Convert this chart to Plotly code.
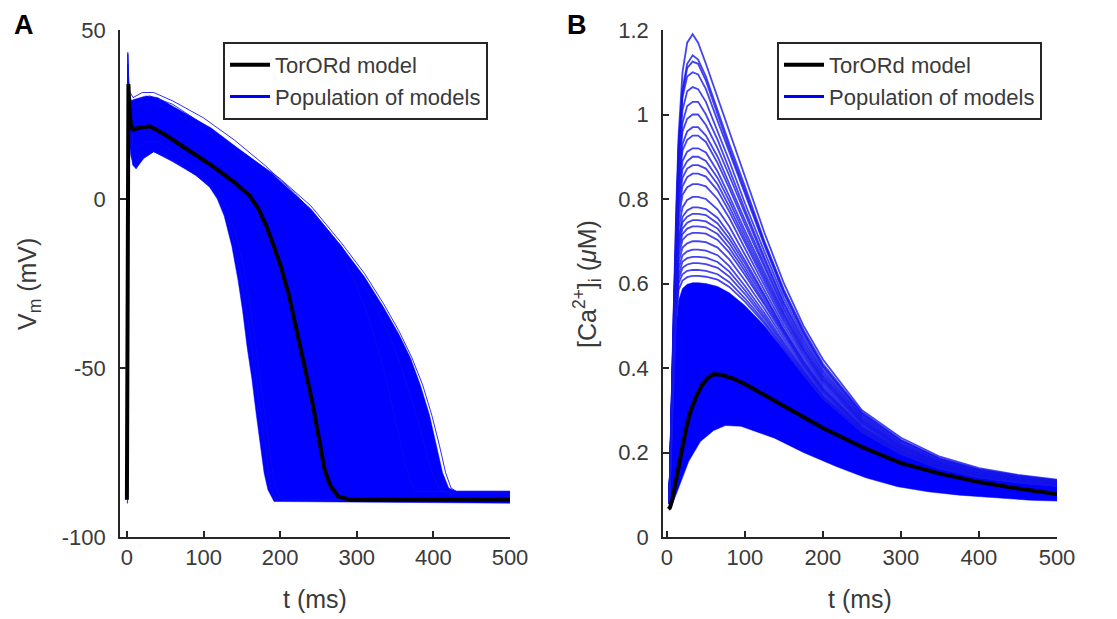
import plotly.graph_objects as go

# ---------------- Panel A: membrane potential ----------------
# TorORd baseline action potential (t in ms, V in mV)
tor_ap_t = [0, 0.7, 1.4, 2, 3, 5, 8, 15, 30, 50, 80, 110, 140, 160, 172, 182, 192, 201,
            211, 222, 233, 242, 250, 258, 266, 276, 292, 400, 500]
tor_ap_v = [-89, -40, 20, 34, 28, 22, 20.5, 21, 21.5, 19, 14.5, 10, 5, 1, -3, -8, -14, -20,
            -28, -39, -50, -60, -70, -80, -85, -88, -89, -89, -89]

# population envelope (upper / right edge)
pop_ap_up_t = [0, 0.6, 1.2, 2.5, 4, 10, 25, 40, 80, 110, 145, 190, 240, 280, 310, 335, 355,
               370, 383, 395, 404, 412, 420, 430, 500]
pop_ap_up_v = [-86.5, 20, 43.5, 33, 29, 29.5, 30.5, 30, 25, 21, 15, 7.5, -3, -14, -23, -32, -40,
               -47, -55, -64, -73, -81, -85.5, -86.5, -86.5]
# population envelope (lower / left edge)
pop_ap_lo_t = [0, 0.8, 1.6, 3, 5, 8, 12, 22, 35, 60, 90, 108, 118, 127, 137, 145, 151, 157,
               163, 169, 174, 179, 184, 192, 500]
pop_ap_lo_v = [-90, -90, 20, 18, 13, 10, 9, 12, 14, 11, 7, 3.5, 0, -5, -14, -24, -33, -44,
               -53, -64, -73, -81, -86, -89.5, -90]

# a few individual population traces visible at the edges
ap_traces = [
    ([0, 1.2, 3, 6, 15, 30, 60, 100, 150, 200, 240, 280, 310, 335, 355, 372, 386, 398, 408, 416, 423, 430, 500],
     [-86.5, 43, 31, 29, 29.5, 30.5, 28, 22, 14, 6, -2, -13, -22, -31, -39, -47, -55, -64, -73, -81, -85.5, -86.5, -86.5]),
    ([0, 1, 3, 6, 15, 30, 60, 100, 150, 200, 240, 280, 305, 325, 342, 357, 370, 382, 392, 400, 408, 418, 500],
     [-87, 38, 30, 27, 28, 29, 26, 20.5, 13, 5, -3, -14, -23, -32, -40, -49, -58, -67, -76, -82, -86, -87, -87]),
    ([0, 1, 3, 8, 20, 35, 60, 100, 140, 180, 220, 250, 275, 295, 312, 326, 338, 348, 357, 365, 375, 500],
     [-87, 40, 32, 30, 31.5, 31.5, 29, 24, 17.5, 10, 1.5, -6, -14, -23, -33, -43, -53, -63, -72, -80, -86.5, -86.5]),
    ([0, 1, 3, 8, 12, 20, 35, 60, 90, 110, 122, 134, 144, 152, 159, 166, 172, 178, 183, 188, 194, 500],
     [-88, 35, 22, 10, 9, 12, 14, 11.5, 7, 3.5, -1, -8, -17, -27, -37, -48, -59, -69, -78, -85, -89, -89]),
    ([0, 1, 3, 8, 15, 25, 40, 65, 95, 118, 131, 143, 153, 161, 168, 175, 181, 187, 192, 197, 204, 500],
     [-88, 36, 24, 16, 15, 17, 17, 13.5, 8, 3, -3, -11, -21, -32, -43, -55, -66, -76, -83, -87, -89, -89]),
]

# ---------------- Panel B: intracellular calcium ----------------
tor_ca_t = [2, 4, 7, 10, 15, 20, 25, 30, 37, 45, 52, 59, 70, 85, 100, 125, 150, 175, 200,
            250, 300, 350, 400, 450, 500]
tor_ca_v = [0.066, 0.07, 0.09, 0.12, 0.17, 0.215, 0.26, 0.296, 0.33, 0.36, 0.376, 0.385, 0.384,
            0.375, 0.362, 0.336, 0.31, 0.283, 0.258, 0.213, 0.175, 0.15, 0.13, 0.115, 0.102]

ca_grid_t = [3, 5, 7, 9, 12, 15, 20, 26, 33, 40, 50, 65, 80, 100, 125, 150, 175, 200, 250, 300,
             350, 400, 450, 500]
# dense part of the population (upper edge on ca_grid_t)
pop_ca_dense_up = [0.08, 0.17, 0.29, 0.40, 0.50, 0.56, 0.588, 0.598, 0.602, 0.602, 0.60, 0.593,
                   0.578, 0.548, 0.5, 0.442, 0.383, 0.327, 0.248, 0.196, 0.162, 0.141, 0.129, 0.121]
pop_ca_lo_t = [3, 6, 10, 20, 28, 43, 60, 75, 95, 138, 175, 217, 255, 296, 335, 375, 420, 466, 500]
pop_ca_lo_v = [0.063, 0.072, 0.09, 0.14, 0.179, 0.226, 0.252, 0.264, 0.262, 0.234, 0.2, 0.167,
               0.14, 0.119, 0.107, 0.099, 0.093, 0.087, 0.085]

# individual high-amplitude transients (values on ca_grid_t)
ca_traces = [
    [0.08, 0.22, 0.40, 0.56, 0.78, 0.95, 1.10, 1.17, 1.19, 1.17, 1.12, 1.04, 0.96, 0.85, 0.72, 0.60, 0.50, 0.42, 0.30, 0.235, 0.19, 0.163, 0.147, 0.136],
    [0.08, 0.22, 0.40, 0.56, 0.77, 0.93, 1.06, 1.12, 1.14, 1.13, 1.09, 1.01, 0.93, 0.83, 0.70, 0.585, 0.49, 0.41, 0.295, 0.23, 0.186, 0.16, 0.145, 0.134],
    [0.08, 0.22, 0.40, 0.56, 0.77, 0.92, 1.05, 1.11, 1.125, 1.12, 1.08, 1.00, 0.92, 0.82, 0.695, 0.58, 0.485, 0.405, 0.293, 0.228, 0.185, 0.159, 0.144, 0.133],
    [0.08, 0.22, 0.40, 0.56, 0.76, 0.91, 1.04, 1.09, 1.10, 1.095, 1.06, 0.985, 0.91, 0.81, 0.69, 0.575, 0.482, 0.403, 0.291, 0.227, 0.184, 0.158, 0.143, 0.133],
    [0.08, 0.21, 0.39, 0.55, 0.75, 0.89, 1.01, 1.055, 1.065, 1.06, 1.03, 0.96, 0.89, 0.79, 0.675, 0.565, 0.475, 0.397, 0.288, 0.224, 0.182, 0.157, 0.142, 0.132],
    [0.08, 0.21, 0.38, 0.54, 0.73, 0.87, 0.98, 1.02, 1.03, 1.03, 1.0, 0.94, 0.87, 0.775, 0.662, 0.555, 0.468, 0.392, 0.285, 0.222, 0.18, 0.156, 0.141, 0.131],
    [0.08, 0.21, 0.38, 0.53, 0.72, 0.86, 0.96, 0.99, 1.0, 1.0, 0.975, 0.92, 0.855, 0.765, 0.655, 0.55, 0.463, 0.388, 0.283, 0.22, 0.179, 0.155, 0.14, 0.13],
    [0.08, 0.21, 0.38, 0.53, 0.71, 0.84, 0.93, 0.96, 0.97, 0.97, 0.95, 0.90, 0.835, 0.75, 0.645, 0.543, 0.457, 0.383, 0.28, 0.218, 0.177, 0.153, 0.139, 0.129],
    [0.08, 0.21, 0.37, 0.52, 0.70, 0.83, 0.915, 0.94, 0.95, 0.95, 0.935, 0.885, 0.825, 0.74, 0.637, 0.537, 0.452, 0.38, 0.278, 0.216, 0.176, 0.152, 0.138, 0.128],
    [0.08, 0.20, 0.37, 0.51, 0.69, 0.81, 0.89, 0.912, 0.92, 0.92, 0.91, 0.865, 0.807, 0.725, 0.627, 0.53, 0.447, 0.376, 0.276, 0.215, 0.175, 0.151, 0.137, 0.128],
    [0.08, 0.20, 0.36, 0.51, 0.68, 0.80, 0.87, 0.89, 0.90, 0.90, 0.89, 0.85, 0.795, 0.715, 0.62, 0.525, 0.443, 0.373, 0.274, 0.213, 0.174, 0.15, 0.137, 0.127],
    [0.08, 0.20, 0.36, 0.50, 0.67, 0.785, 0.85, 0.872, 0.88, 0.88, 0.872, 0.835, 0.782, 0.705, 0.613, 0.52, 0.44, 0.37, 0.272, 0.212, 0.173, 0.15, 0.136, 0.127],
    [0.08, 0.20, 0.35, 0.50, 0.66, 0.77, 0.83, 0.852, 0.86, 0.86, 0.853, 0.82, 0.77, 0.695, 0.605, 0.514, 0.435, 0.366, 0.27, 0.21, 0.172, 0.149, 0.136, 0.126],
    [0.08, 0.20, 0.35, 0.49, 0.65, 0.75, 0.81, 0.828, 0.835, 0.835, 0.83, 0.80, 0.755, 0.683, 0.596, 0.508, 0.43, 0.362, 0.268, 0.209, 0.171, 0.148, 0.135, 0.126],
    [0.08, 0.19, 0.34, 0.48, 0.63, 0.73, 0.78, 0.798, 0.805, 0.805, 0.80, 0.775, 0.735, 0.668, 0.585, 0.5, 0.424, 0.357, 0.265, 0.207, 0.17, 0.147, 0.134, 0.125],
    [0.08, 0.19, 0.34, 0.47, 0.62, 0.71, 0.758, 0.773, 0.78, 0.78, 0.776, 0.755, 0.717, 0.655, 0.575, 0.492, 0.418, 0.353, 0.262, 0.205, 0.168, 0.146, 0.133, 0.124],
    [0.08, 0.19, 0.34, 0.47, 0.61, 0.70, 0.745, 0.758, 0.765, 0.765, 0.762, 0.742, 0.706, 0.647, 0.57, 0.488, 0.415, 0.35, 0.26, 0.204, 0.168, 0.146, 0.133, 0.124],
    [0.08, 0.19, 0.33, 0.46, 0.60, 0.69, 0.73, 0.744, 0.75, 0.75, 0.747, 0.73, 0.695, 0.638, 0.563, 0.484, 0.412, 0.348, 0.259, 0.203, 0.167, 0.145, 0.132, 0.123],
    [0.08, 0.19, 0.33, 0.46, 0.59, 0.68, 0.717, 0.73, 0.735, 0.735, 0.733, 0.717, 0.684, 0.629, 0.556, 0.48, 0.408, 0.345, 0.257, 0.202, 0.166, 0.145, 0.132, 0.123],
    [0.08, 0.18, 0.32, 0.45, 0.58, 0.665, 0.703, 0.715, 0.72, 0.72, 0.718, 0.703, 0.673, 0.62, 0.55, 0.475, 0.405, 0.343, 0.256, 0.201, 0.165, 0.144, 0.131, 0.122],
    [0.08, 0.18, 0.32, 0.44, 0.57, 0.65, 0.685, 0.695, 0.70, 0.70, 0.698, 0.685, 0.657, 0.607, 0.54, 0.468, 0.4, 0.339, 0.254, 0.2, 0.164, 0.143, 0.13, 0.122],
    [0.08, 0.18, 0.31, 0.43, 0.56, 0.635, 0.667, 0.676, 0.68, 0.68, 0.678, 0.667, 0.641, 0.594, 0.53, 0.461, 0.395, 0.335, 0.252, 0.198, 0.163, 0.142, 0.13, 0.121],
    [0.08, 0.18, 0.31, 0.43, 0.55, 0.62, 0.652, 0.66, 0.663, 0.663, 0.661, 0.651, 0.628, 0.584, 0.523, 0.456, 0.392, 0.333, 0.251, 0.198, 0.163, 0.142, 0.13, 0.121],
    [0.08, 0.18, 0.30, 0.42, 0.54, 0.61, 0.637, 0.645, 0.648, 0.648, 0.646, 0.637, 0.616, 0.575, 0.517, 0.452, 0.389, 0.331, 0.25, 0.197, 0.162, 0.142, 0.13, 0.121],
    [0.08, 0.18, 0.30, 0.41, 0.53, 0.60, 0.622, 0.63, 0.632, 0.632, 0.63, 0.622, 0.603, 0.565, 0.51, 0.447, 0.386, 0.329, 0.249, 0.197, 0.162, 0.141, 0.129, 0.121],
    [0.08, 0.17, 0.29, 0.41, 0.52, 0.585, 0.607, 0.615, 0.618, 0.618, 0.616, 0.609, 0.592, 0.557, 0.505, 0.444, 0.384, 0.328, 0.248, 0.196, 0.162, 0.141, 0.129, 0.121],
]

legend_labels = ["TorORd model", "Population of models"]
x_ticks = [0, 100, 200, 300, 400, 500]
ap_y_ticks = [-100, -50, 0, 50]
ap_y_ticktext = ["-100", "-50", "0", "50"]
ca_y_ticks = [0, 0.2, 0.4, 0.6, 0.8, 1.0, 1.2]

# ---------------- styling / layout helpers ----------------
W, H = 1117, 619
OFF = 8  # default page body margin of the html page
BLUE = "rgb(0,0,255)"
THIN = "rgba(10,10,240,0.85)"
ARC = "rgba(20,20,235,0.8)"
AXC = "#262626"
TXT = "#3a3a3a"
FONT = "Liberation Sans, Arial, Helvetica, sans-serif"

def fx(px):
    return (px - OFF) / W

def fy(py):
    return 1 - (py - OFF) / H

fig = go.Figure()

# ---- panel A ----
fig.add_trace(go.Scatter(
    x=pop_ap_up_t + pop_ap_lo_t[::-1], y=pop_ap_up_v + pop_ap_lo_v[::-1],
    fill="toself", fillcolor=BLUE, mode="lines", line=dict(color=BLUE, width=0.5),
    xaxis="x", yaxis="y", showlegend=False, hoverinfo="skip"))
for tt, vv in ap_traces:
    fig.add_trace(go.Scatter(x=tt, y=vv, mode="lines", line=dict(color=THIN, width=1),
                             xaxis="x", yaxis="y", showlegend=False, hoverinfo="skip"))
fig.add_trace(go.Scatter(x=tor_ap_t, y=tor_ap_v, mode="lines",
                         line=dict(color="black", width=4), xaxis="x", yaxis="y",
                         showlegend=False))
fig.add_trace(go.Scatter(x=[None], y=[None], mode="lines", name=legend_labels[0],
                         line=dict(color="black", width=4), xaxis="x", yaxis="y",
                         legend="legend", legendrank=1))
fig.add_trace(go.Scatter(x=[None], y=[None], mode="lines", name=legend_labels[1],
                         line=dict(color=BLUE, width=3), xaxis="x", yaxis="y",
                         legend="legend", legendrank=2))

# ---- panel B ----
fig.add_trace(go.Scatter(
    x=ca_grid_t + pop_ca_lo_t[::-1], y=pop_ca_dense_up + pop_ca_lo_v[::-1],
    fill="toself", fillcolor=BLUE, mode="lines", line=dict(color=BLUE, width=0.5),
    xaxis="x2", yaxis="y2", showlegend=False, hoverinfo="skip"))
for vv in ca_traces:
    fig.add_trace(go.Scatter(x=ca_grid_t, y=vv, mode="lines", line=dict(color=ARC, width=1.8),
                             xaxis="x2", yaxis="y2", showlegend=False, hoverinfo="skip"))
fig.add_trace(go.Scatter(x=tor_ca_t, y=tor_ca_v, mode="lines",
                         line=dict(color="black", width=4), xaxis="x2", yaxis="y2",
                         showlegend=False))
fig.add_trace(go.Scatter(x=[None], y=[None], mode="lines", name=legend_labels[0],
                         line=dict(color="black", width=4), xaxis="x2", yaxis="y2",
                         legend="legend2", legendrank=1))
fig.add_trace(go.Scatter(x=[None], y=[None], mode="lines", name=legend_labels[1],
                         line=dict(color=BLUE, width=3), xaxis="x2", yaxis="y2",
                         legend="legend2", legendrank=2))

axis_common = dict(showline=True, linecolor=AXC, linewidth=1.5, ticks="inside", ticklen=6,
                   tickwidth=1.5, tickcolor=AXC, showgrid=False, zeroline=False,
                   tickfont=dict(family=FONT, size=22, color=TXT), automargin=False)

ytop, ybot = 30, 537
fig.update_layout(
    width=W, height=H, margin=dict(l=0, r=0, t=0, b=0),
    paper_bgcolor="white", plot_bgcolor="white",
    font=dict(family=FONT, size=22, color=TXT),
    xaxis=dict(domain=[fx(120), fx(510)], range=[-9, 500], tickvals=x_ticks, anchor="y",
               **axis_common),
    yaxis=dict(domain=[fy(ybot), fy(ytop)], range=[-100, 50], tickvals=ap_y_ticks,
               ticktext=ap_y_ticktext, anchor="x", ticklabelstandoff=8, **axis_common),
    xaxis2=dict(domain=[fx(663), fx(1057)], range=[-5, 500], tickvals=x_ticks, anchor="y2",
                **axis_common),
    yaxis2=dict(domain=[fy(ybot), fy(ytop)], range=[0, 1.2], tickvals=ca_y_ticks, anchor="x2",
                ticklabelstandoff=8, **axis_common),
    legend=dict(x=fx(223), y=fy(42), xanchor="left", yanchor="top", bordercolor=AXC,
                borderwidth=2, bgcolor="white", font=dict(family=FONT, size=22, color=TXT),
                itemwidth=40, tracegroupgap=0),
    legend2=dict(x=fx(777), y=fy(42), xanchor="left", yanchor="top", bordercolor=AXC,
                 borderwidth=2, bgcolor="white", font=dict(family=FONT, size=22, color=TXT),
                 itemwidth=40, tracegroupgap=0),
    showlegend=True,
)

ann = [
    dict(text="<b>A</b>", x=fx(24), y=fy(25), font=dict(size=27, color="black")),
    dict(text="<b>B</b>", x=fx(577), y=fy(25), font=dict(size=27, color="black")),
    dict(text="t (ms)", x=fx(315), y=fy(599), font=dict(size=25, color=TXT)),
    dict(text="t (ms)", x=fx(860), y=fy(599), font=dict(size=25, color=TXT)),
    dict(text="V<sub>m</sub> (mV)", x=fx(29), y=fy(284), textangle=-90,
         font=dict(size=25, color=TXT)),
    dict(text="[Ca<sup>2+</sup>]<sub>i</sub> (<i>\u03bc</i>M)", x=fx(587), y=fy(284), textangle=-90,
         font=dict(size=25, color=TXT)),
]
for a in ann:
    a.update(xref="paper", yref="paper", showarrow=False, xanchor="center", yanchor="middle")
    a["font"]["family"] = FONT
fig.update_layout(annotations=ann)

fig.write_html("out.html")
